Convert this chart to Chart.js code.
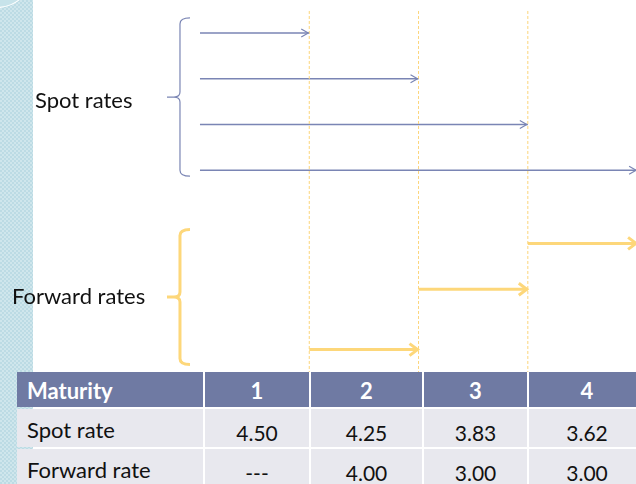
<!DOCTYPE html>
<html>
<head>
    <meta charset="UTF-8">
    <script src="https://cdn.jsdelivr.net/npm/chart.js"></script>
    <style>
        body { margin: 0; background: #fff; font-family: Lato, sans-serif; }
        .page { position: relative; width: 636px; height: 484px; overflow: hidden; }
        .strip {
            position: absolute; left: 0; top: 0; width: 33px; height: 484px;
            background-color: #cfe6ec;
            background-image: linear-gradient(45deg, #bcdbe4 25%, transparent 25%, transparent 75%, #bcdbe4 75%),
                              linear-gradient(45deg, #bcdbe4 25%, transparent 25%, transparent 75%, #bcdbe4 75%);
            background-size: 4px 4px;
            background-position: 0 0, 2px 2px;
        }
        .bubble {
            position: absolute; left: -40px; top: -68px; width: 72px; height: 74px;
            border-radius: 50%; background: #c7e3ea; border: 1px solid #fff;
        }
        .chart-box { position: absolute; left: 0; top: 0; width: 636px; height: 372px; }
        .label { position: absolute; font-size: 22px; color: #111; line-height: 26px; }
        .grid {
            position: absolute; left: 17px; top: 372px;
            display: grid;
            grid-template-columns: 186px 104px 111px 103px 116px;
            grid-template-rows: 35px 38px 38px;
            gap: 2px;
        }
        .grid div { background: #e8e8ee; color: #111; font-size: 21px; display: flex; align-items: center; justify-content: center; padding-top: 8px; box-sizing: border-box; }
        .grid div.head { background: #6f7aa3; color: #fff; font-weight: bold; font-size: 22px; padding-top: 2px; }
        .grid div.first { justify-content: flex-start; padding-left: 10px; }
        .grid div.rowname { padding-top: 2px; font-size: 22px; }
    </style>
</head>
<body>
<div class="page">
    <div class="strip"></div>
    <div class="bubble"></div>
    <div class="chart-box"><canvas id="rates" width="636" height="372"></canvas></div>
    <div class="label" style="left:35px; top:87px;">Spot rates</div>
    <div class="label" style="left:12px; top:283px;">Forward rates</div>
    <div class="grid" id="table"></div>
</div>

<script>
    // table data
    const maturities = [1, 2, 3, 4];
    const spotRates = [4.50, 4.25, 3.83, 3.62];
    const forwardRates = [null, 4.00, 3.00, 3.00];

    // arrow lanes (rows of the diagram, top to bottom)
    const spotLanes = [1, 2, 3, 4];
    const forwardLanes = [7.92, 6.6, 5.6];   // forward for year 2, 3, 4
    const forwardStarts = [1, 2, 3];
    const forwardEnds = [2, 3, 4];

    const blue = '#7a85b4';
    const yellow = '#fdd77a';

    // build the table
    const table = document.getElementById('table');
    function cell(text, cls) {
        const d = document.createElement('div');
        d.className = cls || '';
        d.textContent = text;
        table.appendChild(d);
    }
    cell('Maturity', 'head first');
    maturities.forEach(m => cell(String(m), 'head'));
    cell('Spot rate', 'first rowname');
    spotRates.forEach(v => cell(v.toFixed(2)));
    cell('Forward rate', 'first rowname');
    forwardRates.forEach(v => cell(v === null ? '---' : v.toFixed(2)));

    // datasets
    const datasets = [];
    maturities.slice(0, 3).forEach(m => {
        datasets.push({
            data: [{ x: m, y: 0.52 }, { x: m, y: 9 }],
            borderColor: '#fcd57a', borderWidth: 1, borderDash: [3, 2]
        });
    });
    spotLanes.forEach((lane, i) => {
        datasets.push({
            data: [{ x: 0, y: lane }, { x: maturities[i], y: lane }],
            borderColor: blue, borderWidth: 1.4,
            arrow: { len: 8, half: 4, width: 1.2 }
        });
    });
    forwardLanes.forEach((lane, i) => {
        datasets.push({
            data: [{ x: forwardStarts[i], y: lane }, { x: forwardEnds[i], y: lane }],
            borderColor: yellow, borderWidth: 3,
            arrow: { len: 9, half: 6, width: 3 }
        });
    });

    const arrowHeads = {
        id: 'arrowHeads',
        afterDatasetsDraw(chart) {
            const ctx = chart.ctx;
            const area = chart.chartArea;
            ctx.save();
            ctx.beginPath();
            ctx.rect(area.left, area.top, area.right - area.left, area.bottom - area.top);
            ctx.clip();
            chart.data.datasets.forEach((ds, i) => {
                if (!ds.arrow) return;
                const pts = chart.getDatasetMeta(i).data;
                const a = pts[pts.length - 2], b = pts[pts.length - 1];
                const ang = Math.atan2(b.y - a.y, b.x - a.x);
                const h = ds.arrow;
                ctx.strokeStyle = ds.borderColor;
                ctx.lineWidth = h.width;
                ctx.lineJoin = 'miter';
                ctx.beginPath();
                ctx.moveTo(b.x - h.len * Math.cos(ang) + h.half * Math.sin(ang), b.y - h.len * Math.sin(ang) - h.half * Math.cos(ang));
                ctx.lineTo(b.x - 1, b.y);
                ctx.lineTo(b.x - h.len * Math.cos(ang) - h.half * Math.sin(ang), b.y - h.len * Math.sin(ang) + h.half * Math.cos(ang));
                ctx.stroke();
            });
            ctx.restore();
        }
    };

    function brace(ctx, x0, top, bottom, color, width) {
        const mid = (top + bottom) / 2;
        const vx = x0 - 20;
        ctx.strokeStyle = color;
        ctx.lineWidth = width;
        ctx.beginPath();
        ctx.moveTo(x0 - 10, top);
        ctx.quadraticCurveTo(vx, top, vx, top + 6);
        ctx.lineTo(vx, mid - 5);
        ctx.quadraticCurveTo(vx, mid, vx - 6, mid);
        ctx.lineTo(vx - 13, mid);
        ctx.moveTo(vx - 6, mid);
        ctx.quadraticCurveTo(vx, mid, vx, mid + 5);
        ctx.lineTo(vx, bottom - 6);
        ctx.quadraticCurveTo(vx, bottom, x0 - 10, bottom);
        ctx.stroke();
    }

    const braces = {
        id: 'braces',
        afterDatasetsDraw(chart) {
            const ctx = chart.ctx;
            const x0 = chart.scales.x.getPixelForValue(0);
            const y = chart.scales.y;
            ctx.save();
            brace(ctx, x0, y.getPixelForValue(spotLanes[0]) - 15, y.getPixelForValue(spotLanes[3]) + 6, blue, 1.2);
            brace(ctx, x0, y.getPixelForValue(Math.min(...forwardLanes)) - 14, y.getPixelForValue(Math.max(...forwardLanes)) + 15, yellow, 3);
            ctx.restore();
        }
    };

    new Chart(document.getElementById('rates'), {
        type: 'line',
        data: { datasets: datasets },
        options: {
            responsive: false,
            animation: false,
            parsing: false,
            layout: { padding: 0 },
            elements: { point: { radius: 0 }, line: { tension: 0 } },
            plugins: { legend: { display: false }, tooltip: { enabled: false } },
            scales: {
                x: { type: 'linear', min: -1.83, max: 3.99, display: false },
                y: { type: 'linear', reverse: true, min: 0.28, max: 8.41, display: false }
            }
        },
        plugins: [arrowHeads, braces]
    });
</script>
</body>
</html>
